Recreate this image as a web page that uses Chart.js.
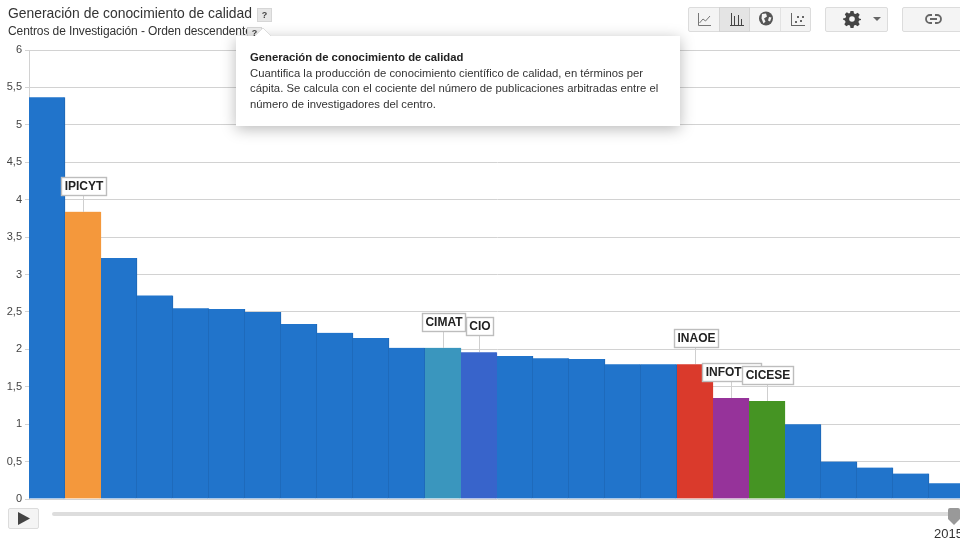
<!DOCTYPE html>
<html lang="es">
<head>
<meta charset="utf-8">
<title>Generación de conocimiento de calidad</title>
<script src="https://cdn.jsdelivr.net/npm/chart.js@4"></script>
<style>
html,body{margin:0;padding:0;width:960px;height:540px;overflow:hidden;background:#fff;font-family:"Liberation Sans",Arial,sans-serif;color:#333}
#stage{position:relative;width:960px;height:540px;overflow:hidden}
canvas{position:absolute;left:0;top:0}
.abs{position:absolute}
.t1{left:8px;top:5px;font-size:13.9px;line-height:17px;color:#333;white-space:nowrap}
.t2{left:8px;top:24px;font-size:12px;letter-spacing:-0.1px;line-height:14px;color:#333;white-space:nowrap}
.q{background:#e6e6e6;border:1px solid #d6d6d6;color:#444;font-weight:bold;text-align:center;box-sizing:border-box}
.btn{background:#f4f4f4;border:1px solid #dcdcdc;box-sizing:border-box;border-radius:2px}
.tip{left:236px;top:36px;width:444px;height:90px;background:#fff;box-shadow:0 3px 14px rgba(0,0,0,.28);box-sizing:border-box;padding:14px 14px;font-size:11.3px;line-height:15.5px;color:#333}
.tip b{display:block;color:#222;font-size:11.3px}
.tip span{white-space:nowrap;display:block}
svg{display:block;position:absolute}
</style>
</head>
<body>
<div id="stage">
<canvas id="c" width="965" height="540"></canvas>

<div class="abs t1">Generación de conocimiento de calidad</div>
<div class="abs q" style="left:257px;top:8px;width:15px;height:14px;font-size:9px;line-height:13px">?</div>
<div class="abs t2">Centros de Investigación - Orden descendente</div>
<div class="abs q" style="left:247px;top:27px;width:15px;height:10px;font-size:9px;line-height:10px;background:#eee">?</div>

<div class="abs tip">
  <b>Generación de conocimiento de calidad</b>
  <span>Cuantifica la producción de conocimiento científico de calidad, en términos per</span>
  <span>cápita. Se calcula con el cociente del número de publicaciones arbitradas entre el</span>
  <span>número de investigadores del centro.</span>
</div>
<svg style="left:254px;top:27px" width="20" height="10"><path d="M0 10L9 1L18 10Z" fill="#fff" stroke="#ddd"/><path d="M0 10H18" stroke="#fff" stroke-width="2"/></svg>

<div class="abs btn" style="left:688px;top:7px;width:123px;height:25px"></div>
<div class="abs" style="left:719px;top:7px;width:31px;height:25px;background:#e4e4e4;border:1px solid #d4d4d4;box-sizing:border-box"></div>
<div class="abs" style="left:780px;top:8px;width:1px;height:23px;background:#e2e2e2"></div>
<svg style="left:697px;top:12px" width="16" height="15" fill="none" stroke="#777"><path d="M1.5 1V13.5H14"/><path d="M2.5 11L6 7L8.5 9L13 4"/></svg>
<svg style="left:729px;top:12px" width="16" height="15" fill="none" stroke="#444"><path d="M2.5 1V13M5.5 4V13M9.500 3V13M12.500 7V13M1 13.500H15"/></svg>
<svg style="left:758px;top:11px" width="16" height="16"><circle cx="8" cy="7.500" r="7" fill="#555"/><path d="M4 3L8 2.500L9 5.500L6 7.500L7.500 10.500L5.500 12.500L3.500 7.500ZM11 6L13.500 6.500L12 10.500L10 9.500Z" fill="#f4f4f4"/></svg>
<svg style="left:790px;top:12px" width="16" height="15" fill="#666" stroke="none"><path d="M1 1H2V13H15V14H1Z"/><rect x="5" y="9" width="2" height="2"/><rect x="7" y="4" width="2" height="2"/><rect x="10" y="8" width="2" height="2"/><rect x="12" y="4" width="2" height="2"/></svg>

<div class="abs btn" style="left:825px;top:7px;width:63px;height:25px"></div>
<svg style="left:843px;top:10px" width="18" height="18"><path d="M7.500 1h3l.5 2.400 1.600.7 2.100-1.300 2 2-1.300 2.100.7 1.600 2.400.5v1l-2.400.5-.7 1.600 1.300 2.100-2 2-2.100-1.300-1.600.7-.5 2.400h-3l-.5-2.400-1.600-.7-2.100 1.300-2-2 1.300-2.100-.7-1.600L0 9.500v-1l2.400-.5.7-1.600L1.800 4.300l2-2 2.100 1.300 1.100-.7Z" fill="#444"/><circle cx="9" cy="9" r="2.800" fill="#f4f4f4"/></svg>
<svg style="left:873px;top:17px" width="9" height="5"><path d="M0 0H8L4 4Z" fill="#666"/></svg>

<div class="abs btn" style="left:902px;top:7px;width:70px;height:25px"></div>
<svg style="left:925px;top:14px" width="17" height="10" fill="none" stroke="#666" stroke-width="1.800"><path d="M7 1H5a4 4 0 0 0 0 8H7M10 1h2a4 4 0 0 1 0 8H10M5 5H12"/></svg>

<div class="abs btn" style="left:8px;top:508px;width:31px;height:21px"></div>
<svg style="left:17px;top:512px" width="14" height="13"><path d="M1 0L13 6.500L1 13Z" fill="#444"/></svg>
<div class="abs" style="left:52px;top:512px;width:908px;height:4px;background:#ddd;border-radius:2px"></div>
<svg style="left:948px;top:508px" width="12" height="18"><path d="M0 2Q0 0 2 0H10Q12 0 12 2V11L6 17L0 11Z" fill="#999"/></svg>
<div class="abs" style="left:934px;top:526px;font-size:13px;line-height:15px;color:#333;white-space:nowrap">2015</div>
</div>

<script>
const categories = ["", "IPICYT", "", "", "", "", "", "", "", "", "", "CIMAT", "CIO", "", "", "", "", "", "INAOE", "INFOTEC", "CICESE", "", "", "", "", ""];
const values = [5.37, 3.84, 3.22, 2.72, 2.55, 2.54, 2.50, 2.34, 2.22, 2.15, 2.02, 2.02, 1.96, 1.91, 1.88, 1.87, 1.80, 1.80, 1.80, 1.35, 1.31, 1.00, 0.50, 0.42, 0.34, 0.21];
const defaultColor = "#2174cb";
const defaultEdge = "#1f66b4";
const highlightColors = {IPICYT:"#f4983c", CIMAT:"#3a96be", CIO:"#3864cb", INAOE:"#da3a2c", INFOTEC:"#96339a", CICESE:"#459423"};

const callouts = {
  id: "callouts",
  afterDatasetsDraw(chart) {
    const ctx = chart.ctx, meta = chart.getDatasetMeta(0);
    ctx.save();
    ctx.font = "bold 12px 'Liberation Sans', Arial, sans-serif";
    ctx.textAlign = "center";
    ctx.textBaseline = "middle";
    categories.forEach((name, i) => {
      if (!name) return;
      const bar = meta.data[i], x = Math.round(bar.x), top = Math.round(bar.y);
      const w = Math.round(ctx.measureText(name).width) + 7, h = 19;
      const bottom = top - 16, left = Math.round(x - w / 2) + 1;
      ctx.strokeStyle = "#cfcfcf"; ctx.lineWidth = 1;
      ctx.beginPath(); ctx.moveTo(x + .5, bottom); ctx.lineTo(x + .5, top); ctx.stroke();
      ctx.fillStyle = "#fff";
      ctx.fillRect(left, bottom - h, w, h);
      ctx.strokeStyle = "#bdbdbd"; ctx.lineWidth = 1.4;
      ctx.strokeRect(left + .5, bottom - h + .5, w - 1, h - 1);
      ctx.fillStyle = "#222";
      ctx.fillText(name, left + w / 2, bottom - h / 2 + .5);
    });
    ctx.restore();
  }
};

new Chart(document.getElementById("c"), {
  type: "bar",
  data: {
    labels: categories,
    datasets: [{
      data: values,
      backgroundColor: categories.map(n => highlightColors[n] || defaultColor),
      borderColor: categories.map(n => highlightColors[n] || defaultEdge),
      borderWidth: {right: 1},
      borderSkipped: false,
      barPercentage: 1,
      categoryPercentage: 1
    }]
  },
  options: {
    responsive: false,
    animation: false,
    layout: {padding: {top: 50, bottom: 41, left: 0, right: 0}},
    plugins: {legend: {display: false}, tooltip: {enabled: false}, title: {display: false}},
    scales: {
      x: {display: false, offset: true, grid: {display: false}},
      y: {
        min: 0, max: 6,
        afterFit(scale) { scale.width = 29; },
        ticks: {
          stepSize: 0.5,
          padding: 3,
          color: "#444",
          font: {family: "'Liberation Sans', Arial, sans-serif", size: 11},
          callback: v => String(v).replace(".", ",")
        },
        grid: {color: "#d2d2d2", lineWidth: 1, tickLength: 4},
        border: {color: "#d2d2d2"}
      }
    }
  },
  plugins: [callouts]
});
</script>
</body>
</html>
